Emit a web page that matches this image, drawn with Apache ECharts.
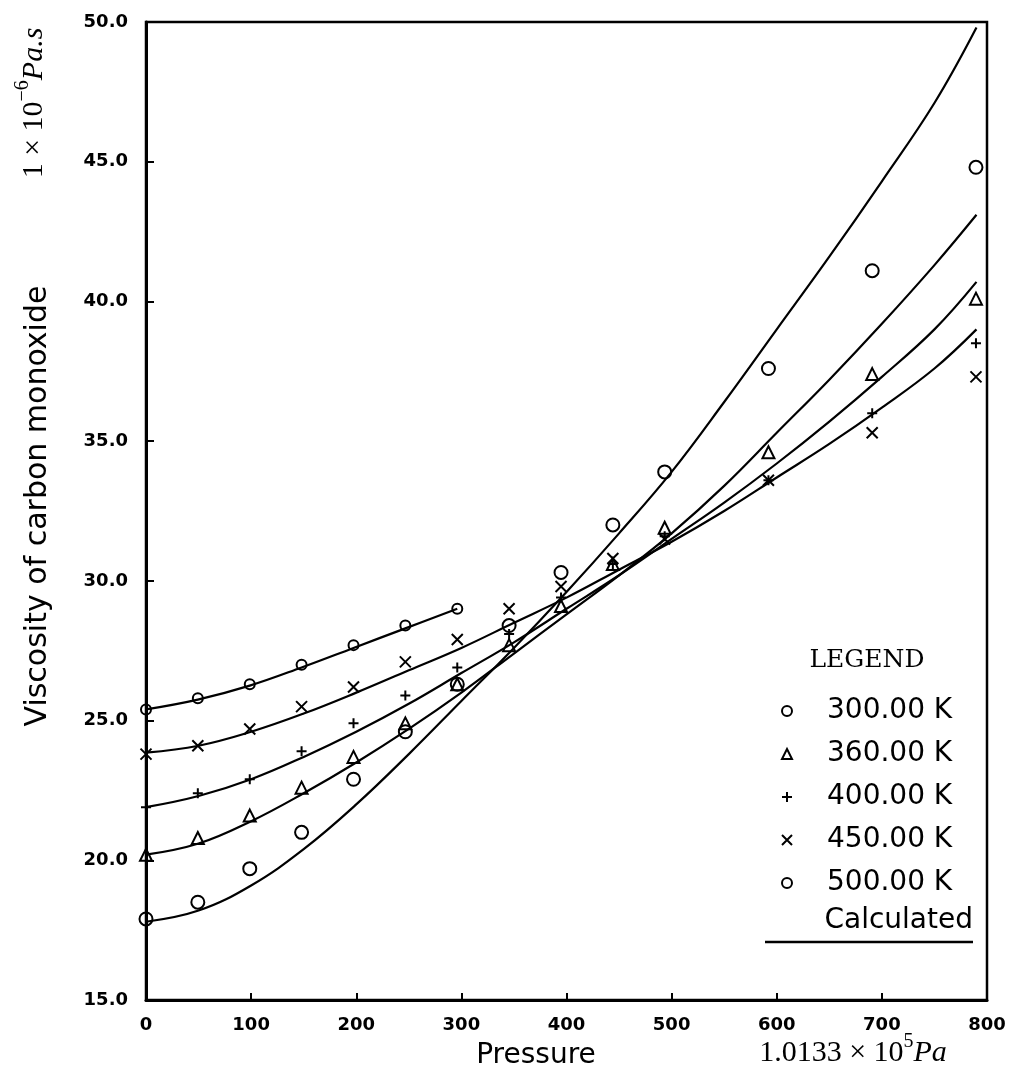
<!DOCTYPE html>
<html>
<head>
<meta charset="utf-8">
<script src="https://cdn.jsdelivr.net/npm/echarts@6/dist/echarts.min.js"></script>
<style>
html,body{margin:0;padding:0;background:#fff;}
#chart{width:1011px;height:1074px;}
</style>
</head>
<body>
<div id="chart"></div>
<script>
// ---- data ----
const pressures = [0, 49.3, 98.7, 148.0, 197.4, 246.7, 296.1, 345.4, 394.8, 444.1, 493.4, 592.1, 690.8, 789.5];
const seriesNames = ['300.00 K', '360.00 K', '400.00 K', '450.00 K', '500.00 K'];
const v300 = [17.9, 18.5, 19.7, 21.0, 22.9, 24.6, 26.3, 28.4, 30.3, 32.0, 33.9, 37.6, 41.1, 44.8];
const v360 = [20.2, 20.8, 21.6, 22.6, 23.7, 24.9, 26.3, 27.7, 29.1, 30.6, 31.9, 34.6, 37.4, 40.1];
const v400 = [21.9, 22.4, 22.9, 23.9, 24.9, 25.9, 26.9, 28.1, 29.4, 30.6, 31.6, 33.6, 36.0, 38.5];
const v450 = [23.8, 24.1, 24.7, 25.5, 26.2, 27.1, 27.9, 29.0, 29.8, 30.8, 31.5, 33.6, 35.3, 37.3];
const v500 = [25.4, 25.8, 26.3, 27.0, 27.7, 28.4, 29.0];

const calcP = [0, 50, 100, 150, 200, 250, 300, 350, 400, 450, 500, 550, 600, 650, 700, 750, 790];
const c300 = [17.8, 18.2, 19.1, 20.4, 22.0, 23.8, 25.7, 27.6, 29.6, 31.7, 33.9, 36.4, 39.0, 41.6, 44.3, 47.1, 49.8];
const c360 = [20.2, 20.6, 21.4, 22.4, 23.5, 24.7, 26.0, 27.4, 28.8, 30.2, 31.7, 33.4, 35.3, 37.2, 39.2, 41.3, 43.1];
const c400 = [21.9, 22.3, 22.9, 23.7, 24.6, 25.6, 26.7, 27.8, 29.0, 30.2, 31.5, 32.8, 34.2, 35.7, 37.3, 39.0, 40.7];
const c450 = [23.85, 24.1, 24.6, 25.25, 26.0, 26.8, 27.6, 28.5, 29.4, 30.4, 31.4, 32.5, 33.7, 34.9, 36.2, 37.6, 39.0];
const calcP500 = [0, 49.3, 98.7, 148.0, 197.4, 246.7, 296.1];
const c500 = [25.4, 25.75, 26.25, 26.9, 27.6, 28.3, 29.0];

const xTickLabels = ['0', '100', '200', '300', '400', '500', '600', '700', '800'];
const yTickLabels = ['15.0', '20.0', '25.0', '30.0', '35.0', '40.0', '45.0', '50.0'];

// ---- chart ----
const pair = (xs, ys) => ys.map((y, i) => [xs[i], y]);
const INK = '#000';
const plus = 'path://M5,0 L5,10 M0,5 L10,5';
const cross = 'path://M0,0 L10,10 M10,0 L0,10';

function scatter(name, vals, symbol, size) {
  return {
    name: name, type: 'scatter', data: pair(pressures, vals),
    symbol: symbol, symbolSize: size, z: 5,
    itemStyle: { color: 'rgba(0,0,0,0)', borderColor: INK, borderWidth: 2, opacity: 1 }
  };
}
function calc(xs, ys) {
  return {
    type: 'line', data: pair(xs, ys), showSymbol: false, smooth: 0.4,
    lineStyle: { color: INK, width: 2.2 }, z: 3, silent: true
  };
}

const chart = echarts.init(document.getElementById('chart'), null, { renderer: 'canvas' });
const xmin = +xTickLabels[0], xmax = +xTickLabels[xTickLabels.length - 1];
const ymin = +yTickLabels[0], ymax = +yTickLabels[yTickLabels.length - 1];
const tickFont = { color: INK, fontFamily: 'DejaVu Sans', fontWeight: 'bold', fontSize: 18 };
const serifRich = {
  n: { fontFamily: 'Liberation Serif', fontSize: 30, lineHeight: 36, verticalAlign: 'bottom', fill: INK },
  s: { fontFamily: 'Liberation Serif', fontSize: 20, lineHeight: 36, verticalAlign: 'top', fill: INK },
  i: { fontFamily: 'Liberation Serif', fontStyle: 'italic', fontSize: 30, lineHeight: 36, verticalAlign: 'bottom', fill: INK }
};

chart.setOption({
  animation: false,
  backgroundColor: '#fff',
  grid: { left: 146, right: 24, top: 22, bottom: 74, show: true, borderColor: INK, borderWidth: 2.5 },
  xAxis: {
    type: 'value', min: xmin, max: xmax, interval: 100,
    axisLine: { lineStyle: { color: INK, width: 3 } },
    axisTick: { inside: true, length: 7, lineStyle: { color: INK, width: 2 } },
    splitLine: { show: false },
    axisLabel: { margin: 16, formatter: v => xTickLabels[Math.round((v - xmin) / 100)], ...tickFont }
  },
  yAxis: {
    type: 'value', min: ymin, max: ymax, interval: 5,
    axisLine: { lineStyle: { color: INK, width: 3 } },
    axisTick: { inside: true, length: 8, lineStyle: { color: INK, width: 2 } },
    splitLine: { show: false },
    axisLabel: { margin: 18, formatter: v => yTickLabels[Math.round((v - ymin) / 5)], ...tickFont }
  },
  legend: {
    data: seriesNames, orient: 'vertical', left: 776, top: 692, itemGap: 15,
    itemWidth: 10, itemHeight: 10,
    textStyle: { color: INK, fontFamily: 'DejaVu Sans', fontSize: 28, padding: [0, 0, 0, 30] },
    selectedMode: false
  },
  series: [
    calc(calcP, c300), calc(calcP, c360), calc(calcP, c400), calc(calcP, c450), calc(calcP500, c500),
    scatter(seriesNames[0], v300, 'circle', 13),
    scatter(seriesNames[1], v360, 'triangle', 12),
    scatter(seriesNames[2], v400, plus, 10),
    scatter(seriesNames[3], v450, cross, 11),
    scatter(seriesNames[4], v500, 'circle', 10)
  ],
  graphic: [
    { type: 'text', x: 38, y: 506, rotation: Math.PI / 2,
      style: { text: 'Viscosity of carbon monoxide', fill: INK, font: '30px "DejaVu Sans"', align: 'center', verticalAlign: 'middle' } },
    { type: 'text', x: 31, y: 103, rotation: Math.PI / 2,
      style: { text: '{n|1 × 10}{s|−6}{i|Pa.s}', fill: INK, align: 'center', verticalAlign: 'middle', rich: serifRich } },
    { type: 'text', x: 536, y: 1056,
      style: { text: 'Pressure', fill: INK, font: '28px "DejaVu Sans"', align: 'center', verticalAlign: 'middle' } },
    { type: 'text', x: 853, y: 1050,
      style: { text: '{n|1.0133 × 10}{s|5}{i|Pa}', fill: INK, align: 'center', verticalAlign: 'middle', rich: serifRich } },
    { type: 'text', x: 867, y: 660,
      style: { text: 'LEGEND', fill: INK, font: '25px "DejaVu Serif"', align: 'center', verticalAlign: 'middle' } },
    { type: 'text', x: 973, y: 921,
      style: { text: 'Calculated', fill: INK, font: '28px "DejaVu Sans"', align: 'right', verticalAlign: 'middle' } },
    { type: 'line', shape: { x1: 765, y1: 942, x2: 973, y2: 942 }, style: { stroke: INK, lineWidth: 2.5 } }
  ]
});
</script>
</body>
</html>
